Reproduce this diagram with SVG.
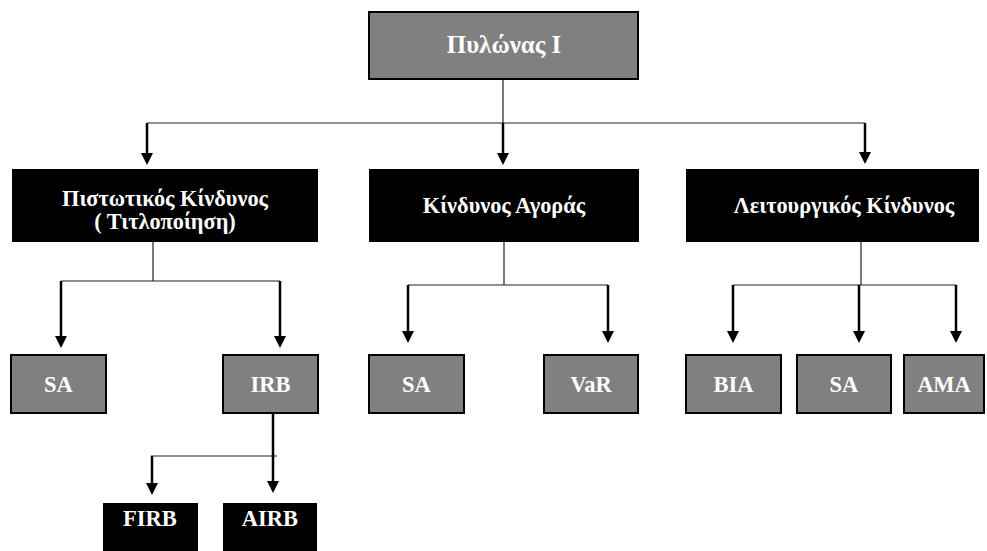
<svg xmlns="http://www.w3.org/2000/svg" width="987" height="551" viewBox="0 0 987 551">
  <style>
    .gray { fill: #808080; stroke: #000; stroke-width: 2; }
    .dark { fill: #000; }
    .lbl { font-family: "Liberation Serif", "Times New Roman", serif; font-weight: bold; fill: #fff; text-anchor: middle; }
    .big { font-size: 25px; }
    .gr { font-size: 22.3px; }
    .mid { font-size: 22.5px; }
    .thin { stroke: #222; stroke-width: 1.2; fill: none; }
    .arrow { stroke: #000; stroke-width: 2.5; fill: none; marker-end: url(#head); }
  </style>
  <defs>
    <!-- filled triangular arrowhead, its base sits at the end of the shaft -->
    <marker id="head" markerUnits="userSpaceOnUse" markerWidth="12" markerHeight="12" refX="0" refY="6" orient="auto" viewBox="0 0 12 12">
      <path d="M0,0 L12,6 L0,12 Z" fill="#000"/>
    </marker>
  </defs>
  <rect width="987" height="551" fill="#fff"/>

  <g id="connectors">
    <!-- root to first level -->
    <line class="thin" x1="503" y1="79" x2="503" y2="123"/>
    <line class="thin" x1="147" y1="123" x2="865" y2="123"/>
    <path class="arrow" d="M147,123 V153"/>
    <path class="arrow" d="M503,123 V153"/>
    <path class="arrow" d="M865,123 V152"/>
    <!-- credit risk -->
    <line class="thin" x1="153" y1="242" x2="153" y2="281"/>
    <line class="thin" x1="61" y1="281" x2="280" y2="281"/>
    <path class="arrow" d="M61,281 V336"/>
    <path class="arrow" d="M280,281 V336"/>
    <!-- market risk -->
    <line class="thin" x1="504" y1="242" x2="504" y2="285"/>
    <line class="thin" x1="408" y1="285" x2="608" y2="285"/>
    <path class="arrow" d="M408,285 V331"/>
    <path class="arrow" d="M608,285 V331"/>
    <!-- operational risk -->
    <line class="thin" x1="861" y1="242" x2="861" y2="285"/>
    <line class="thin" x1="733" y1="285" x2="956" y2="285"/>
    <path class="arrow" d="M733,285 V331"/>
    <path class="arrow" d="M859,285 V331"/>
    <path class="arrow" d="M956,285 V331"/>
    <!-- IRB split -->
    <line class="thin" x1="151" y1="456" x2="277" y2="456"/>
    <path class="arrow" d="M273,413 V481"/>
    <path class="arrow" d="M152,456 V483"/>
  </g>

  <g id="pillar1">
    <rect class="gray" x="369" y="12" width="269" height="67"/>
    <text class="lbl big" x="504" y="53">Πυλώνας Ι</text>
  </g>

  <g id="credit-risk">
    <rect class="dark" x="12" y="169" width="306" height="73"/>
    <text class="lbl gr" x="165" y="206">Πιστωτικός Κίνδυνος</text>
    <text class="lbl gr" x="165" y="229">( Τιτλοποίηση)</text>
  </g>

  <g id="market-risk">
    <rect class="dark" x="369" y="169" width="270" height="73"/>
    <text class="lbl gr" x="504" y="213">Κίνδυνος Αγοράς</text>
  </g>

  <g id="operational-risk">
    <rect class="dark" x="686" y="169" width="293" height="73"/>
    <text class="lbl gr" x="844" y="213">Λειτουργικός Κίνδυνος</text>
  </g>

  <g id="credit-sa">
    <rect class="gray" x="11" y="355" width="95" height="58"/>
    <text class="lbl mid" x="58.5" y="392">SA</text>
  </g>
  <g id="credit-irb">
    <rect class="gray" x="223" y="355" width="95" height="58"/>
    <text class="lbl mid" x="270.5" y="392">IRB</text>
  </g>
  <g id="market-sa">
    <rect class="gray" x="369" y="355" width="95" height="58"/>
    <text class="lbl mid" x="416.5" y="392">SA</text>
  </g>
  <g id="market-var">
    <rect class="gray" x="544" y="355" width="94" height="58"/>
    <text class="lbl mid" x="591" y="392">VaR</text>
  </g>
  <g id="op-bia">
    <rect class="gray" x="686" y="355" width="95" height="58"/>
    <text class="lbl mid" x="733.5" y="392">BIA</text>
  </g>
  <g id="op-sa">
    <rect class="gray" x="797" y="355" width="94" height="58"/>
    <text class="lbl mid" x="844" y="392">SA</text>
  </g>
  <g id="op-ama">
    <rect class="gray" x="904" y="355" width="80" height="58"/>
    <text class="lbl mid" x="944" y="392">AMA</text>
  </g>

  <g id="firb">
    <rect class="dark" x="103" y="503" width="95" height="48"/>
    <text class="lbl mid" x="150" y="526">FIRB</text>
  </g>
  <g id="airb">
    <rect class="dark" x="223" y="503" width="94" height="48"/>
    <text class="lbl mid" x="270" y="526">AIRB</text>
  </g>
</svg>
